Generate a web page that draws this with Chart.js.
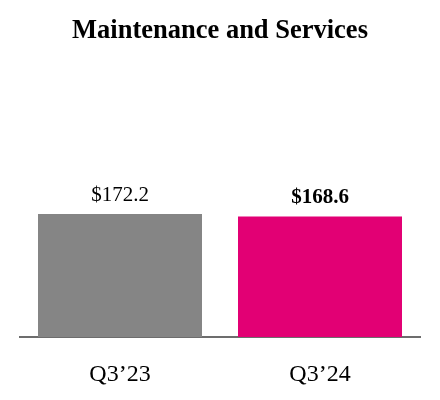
<!DOCTYPE html>
<html>
<head>
<meta charset="utf-8">
<script src="https://cdn.jsdelivr.net/npm/chart.js@4/dist/chart.umd.min.js"></script>
<style>
  html, body { margin: 0; padding: 0; background: #fff; }
  #wrap { width: 440px; height: 400px; }
</style>
</head>
<body>
<div id="wrap"><canvas id="chartMaint"></canvas></div>
<script>
const categories = ['Q3\u201923', 'Q3\u201924'];
const revenue = [172.2, 168.6];
const valueLabels = ['$172.2', '$168.6'];
const barColors = ['#858585', '#E20074'];
const labelBold = [false, true];

const SERIF = "'Liberation Serif', 'Times New Roman', serif";

// labels above bars, placed from each bar element
const barValueLabels = {
  id: 'barValueLabels',
  afterDatasetsDraw(chart) {
    const ctx = chart.ctx;
    const meta = chart.getDatasetMeta(0);
    ctx.save();
    ctx.fillStyle = '#000';
    ctx.textAlign = 'center';
    ctx.textBaseline = 'alphabetic';
    meta.data.forEach((bar, i) => {
      ctx.font = (labelBold[i] ? 'bold ' : '') + '21px ' + SERIF;
      ctx.fillText(valueLabels[i], bar.x, bar.y - 13);
    });
    ctx.restore();
  }
};

const ctxMaint = document.getElementById('chartMaint').getContext('2d');
new Chart(ctxMaint, {
  type: 'bar',
  data: {
    labels: categories,
    datasets: [{
      data: revenue,
      backgroundColor: barColors,
      borderWidth: 0,
      barPercentage: 0.82,
      categoryPercentage: 1.0
    }]
  },
  options: {
    responsive: true,
    maintainAspectRatio: false,
    animation: false,
    layout: { padding: { left: 20, right: 20, top: 0, bottom: 0 } },
    plugins: {
      legend: { display: false },
      tooltip: { enabled: false },
      title: {
        display: true,
        text: 'Maintenance and Services',
        color: '#000',
        font: { family: SERIF, size: 26.5, weight: 'bold' },
        padding: { top: 15, bottom: 90 }
      }
    },
    scales: {
      x: {
        grid: { display: false, drawTicks: false },
        border: { display: true, color: '#6d6d6d', width: 2 },
        ticks: {
          color: '#000',
          font: { family: SERIF, size: 24 },
          padding: 23
        },
        afterFit(scale) { scale.height = 63; }
      },
      y: {
        display: false,
        min: 0,
        max: 280
      }
    }
  },
  plugins: [barValueLabels]
});
</script>
</body>
</html>
